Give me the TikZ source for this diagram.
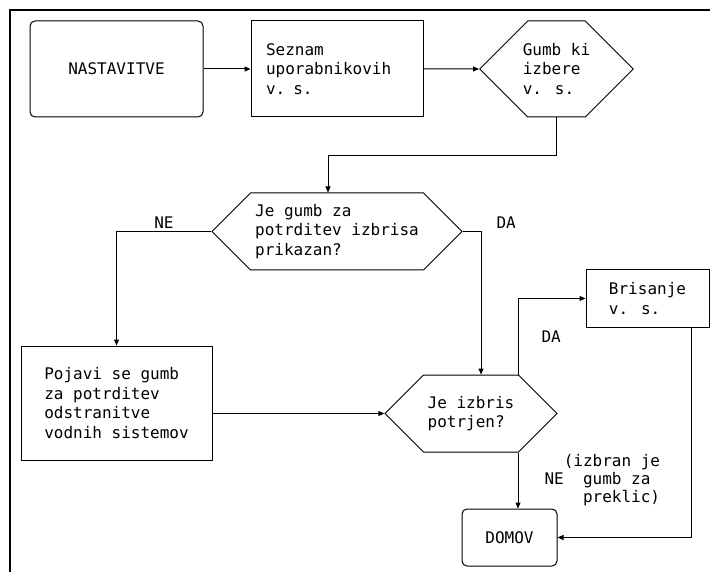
\documentclass[tikz,border=0pt]{standalone}
\usepackage{fontspec}
\setmainfont{DejaVu Sans Mono}
\usetikzlibrary{arrows.meta,positioning,shapes.symbols}

\begin{document}
\begin{tikzpicture}[
      x=1pt, y=-1pt, >={Triangle[length=6pt,width=5pt]}, on grid, line width=1pt,
      every node/.style={font=\fontsize{16}{19.5}\selectfont},
      box/.style={rectangle, draw, minimum width=172pt, minimum height=96pt, align=left},
      rbox/.style={box, rounded corners=5pt},
      decision/.style={signal, signal to=east and west, draw, align=left, inner xsep=0pt, inner ysep=2pt, minimum height=77pt},
      tag/.style={inner sep=2pt}]

      \clip (0,0) rectangle (710,572);
      \draw[line width=2.5pt] (10,10) rectangle (800,700);

      % Nodes
      \node[rbox, minimum width=173pt] (nast) at (116.5,69) {NASTAVITVE};
      \node[box, text width=142pt, right=220.5pt of nast] (seznam) {Seznam\\uporabnikovih\\v. s.};
      \node[decision, minimum width=153pt, minimum height=96pt, inner xsep=-5pt, right=219.5pt of seznam] (gumb) {Gumb ki\\izbere\\v. s.};
      \node[decision, minimum width=250pt, below=162.5pt of seznam] (prikaz) {Je gumb za\\potrditev izbrisa\\prikazan?};
      \node[box, minimum width=191pt, minimum height=114pt, below=334pt of nast] (pojavi) {Pojavi se gumb\\za potrditev\\odstranitve\\vodnih sistemov};
      \node[decision, minimum width=172pt] (potrjen) at (471,413.5) {Je izbris\\potrjen?};
      \node[box, minimum width=123pt, minimum height=57pt] (brisanje) at (647.5,298.5) {Brisanje\\v. s.};
      \node[rbox, minimum width=95pt, minimum height=57pt] (domov) at (509.5,537.5) {DOMOV};

      % Edges
      \path[->] (nast) edge (seznam)
            (seznam) edge (gumb);
      \draw[->] (gumb.south) -- ++(0,38) -| ([xshift=-9pt]prikaz.north);
      \draw[->] (prikaz.west) -| node[tag, pos=0.25, above] {NE} (pojavi.north);
      \draw[->] (prikaz.east) -| node[tag, pos=0.5, anchor=south west, xshift=13pt] {DA} ([xshift=10pt]potrjen.north);
      \draw[->] (pojavi.east |- potrjen.west) -- (potrjen.west);
      \draw[->] ([xshift=47pt]potrjen.north) |- node[tag, pos=0.25, anchor=west, xshift=21pt] {DA} (brisanje.west);
      \draw[->] ([xshift=47pt]potrjen.south) -- node[tag, pos=0.5, anchor=west, xshift=24pt, align=left, font=\fontsize{16}{18}\selectfont]
            {\hphantom{NE}(izbran je\\NE\hphantom{xx}gumb za\\\hphantom{NExx}preklic)} ([xshift=8.5pt]domov.north);
      \draw[->] ([xshift=43.5pt]brisanje.south) |- (domov.east);

    \end{tikzpicture}
\end{document}
